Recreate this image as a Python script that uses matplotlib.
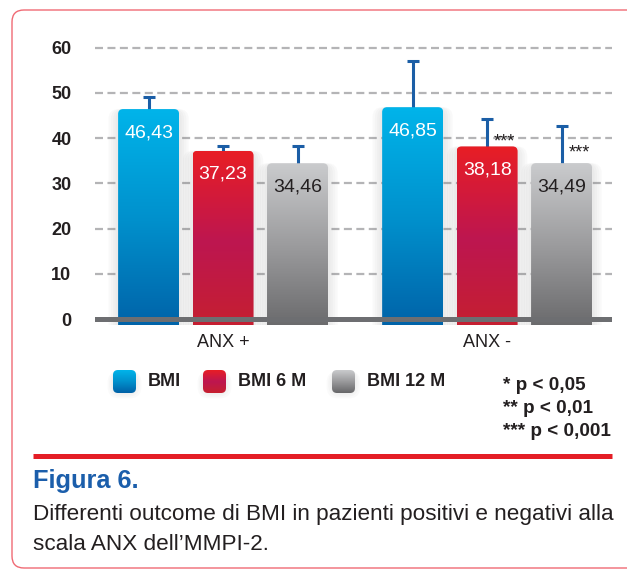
import numpy as np
import matplotlib.pyplot as plt
from matplotlib.patches import FancyBboxPatch
from matplotlib.colors import LinearSegmentedColormap

plt.rcParams['font.family'] = ['Liberation Sans Narrow', 'Liberation Sans', 'DejaVu Sans']

# dati
groups = ['ANX +', 'ANX -']
series = ['BMI', 'BMI 6 M', 'BMI 12 M']
bmi = [46.43, 46.85]
bmi_6m = [37.23, 38.18]
bmi_12m = [34.46, 34.49]
err_bmi = [2.6, 10.1]
err_6m = [1.0, 6.0]
err_12m = [3.9, 8.1]
stars_bmi = ['', '']
stars_6m = ['', '***']
stars_12m = ['', '***']
yticks = [0, 10, 20, 30, 40, 50, 60]
notes = ['* p < 0,05', '** p < 0,01', '*** p < 0,001']

# gradienti (dal basso verso l'alto)
grad_blue = ['#0060a6', '#0090cc', '#00b4ea']
grad_red = ['#c6202e', '#bd1650', '#e81e25']
grad_gray = ['#666668', '#9a9a9c', '#cacbcd']
label_col = ['white', 'white', '#231f20']
star_dy = [4, 3, 7]

W, H = 627, 570
fig = plt.figure(figsize=(W / 100, H / 100), dpi=100)

# sfondo in pixel (y dal basso)
bg = fig.add_axes([0, 0, 1, 1], zorder=0)
bg.set_xlim(0, W)
bg.set_ylim(0, H)
bg.axis('off')


def fy(y):
    return H - y


def gradient_box(ax, x0, y0, w, h, colors, rx, asp, z):
    patch = FancyBboxPatch((x0, y0), w, h, boxstyle=f'round,pad=0,rounding_size={rx}',
                           mutation_aspect=asp, fc='none', ec='none', zorder=z)
    ax.add_patch(patch)
    cmap = LinearSegmentedColormap.from_list('g', colors)
    grad = np.linspace(0, 1, 256).reshape(-1, 1)
    im = ax.imshow(grad, extent=(x0, x0 + w, y0, y0 + h), origin='lower', cmap=cmap,
                   aspect='auto', zorder=z, interpolation='bilinear')
    im.set_clip_path(patch)


def shadow(ax, x0, y0, w, h, sx, sy, rx, asp, z, a=0.04):
    for k in [8, 6, 4, 2]:
        p = FancyBboxPatch((x0 - k * sx, y0 - k * sy), w + 2 * k * sx, h + k * sy,
                           boxstyle=f'round,pad=0,rounding_size={rx * 2}', mutation_aspect=asp,
                           fc='#7a7a7a', ec='none', alpha=a, zorder=z)
        ax.add_patch(p)


# cornice
frame = FancyBboxPatch((12, fy(568)), 640, 558, boxstyle='round,pad=0,rounding_size=12',
                       fc='white', ec='#f06a74', lw=1.0)
bg.add_patch(frame)
bg.plot([33, 612], [fy(455.5), fy(455.5)], color='#e41e26', lw=3.6, solid_capstyle='butt')
bg.text(33, fy(488), 'Figura 6.', fontsize=18.3, fontweight='bold', color='#1b5eab', va='baseline')
bg.text(33, fy(520), 'Differenti outcome di BMI in pazienti positivi e negativi alla',
        fontsize=16.2, color='#231f20', va='baseline')
bg.text(33, fy(550), 'scala ANX dell\u2019MMPI-2.', fontsize=16.2, color='#231f20', va='baseline')

# legenda
leg_x = [113, 203, 332]
for lx, name, cols in zip(leg_x, series, [grad_blue, grad_red, grad_gray]):
    shadow(bg, lx + 1, fy(392), 21, 21, 0.8, 0.8, 6, 1, 1, a=0.03)
    gradient_box(bg, lx, fy(393), 23, 23, cols, 5, 1, 2)
    bg.text(lx + 35, fy(382), name, fontsize=13, fontweight='bold', color='#231f20', va='center')
for i, n in enumerate(notes):
    bg.text(503, fy(385 + 23.5 * i), n, fontsize=13.6, fontweight='bold', color='#231f20', va='center')
bg.set_xlim(0, W)
bg.set_ylim(0, H)

# grafico
ax = fig.add_axes([95 / W, 1 - 324.7 / H, 517 / W, (324.7 - 38.6) / H], zorder=1)
ax.patch.set_alpha(0)
x = np.arange(len(groups))
step, width = 0.282, 0.231
ax.set_xlim(-0.485, 1.473)
ax.set_ylim(-1.2, 62)

p0, p1 = ax.transData.transform([(0, 0), (1, 1)])
px_x, px_y = p1[0] - p0[0], p1[1] - p0[1]
rx = 5 / px_x
asp = px_x / px_y

ax.set_yticks(yticks)
ax.yaxis.grid(True, color='#b4b4b6', lw=1.6, dashes=(3.6, 2))
ax.set_axisbelow(True)
for s in ax.spines.values():
    s.set_visible(False)
ax.tick_params(length=0)
ax.tick_params(axis='y', pad=17, labelsize=13, labelcolor='#231f20')
for t in ax.get_yticklabels():
    t.set_fontweight('bold')
ax.set_xticks(x)
ax.set_xticklabels(groups, fontsize=13, color='#231f20')
ax.tick_params(axis='x', pad=7)

data = [(bmi, err_bmi, grad_blue, stars_bmi), (bmi_6m, err_6m, grad_red, stars_6m),
        (bmi_12m, err_12m, grad_gray, stars_12m)]
for i, (vals, errs, cols, stars) in enumerate(data):
    xs = x + (i - 1) * step
    bars = ax.bar(xs, vals, width, color='none')
    for r, v in zip(bars, vals):
        x0 = r.get_x()
        shadow(ax, x0, -3, width, v + 3, 1.2 / px_x, 1.2 / px_y, rx, asp, 1)
        gradient_box(ax, x0, -3, width, v + 3, cols, rx, asp, 2)
        ax.annotate(f'{v:.2f}'.replace('.', ','), (x0 + width / 2, v), xytext=(0, -17),
                    textcoords='offset points', ha='center', va='center', fontsize=14,
                    color=label_col[i], zorder=5)
    # la parte inferiore resta nascosta dietro la barra
    ax.errorbar(xs, vals, yerr=errs, fmt='none', ecolor='#1b5ea6',
                elinewidth=2.2, capsize=4.4, capthick=2.2, zorder=1.5)
    for xc, v, s in zip(xs, vals, stars):
        if s:
            ax.annotate(s, (xc, v), xytext=(5, star_dy[i]), textcoords='offset points',
                        ha='left', va='center', fontsize=13, color='#231f20', zorder=5)

ax.axhline(0, color='#6d6e71', lw=3.6, zorder=4)
ax.set_xlim(-0.485, 1.473)
ax.set_ylim(-1.2, 62)

fig.savefig('out.png', dpi=100)
